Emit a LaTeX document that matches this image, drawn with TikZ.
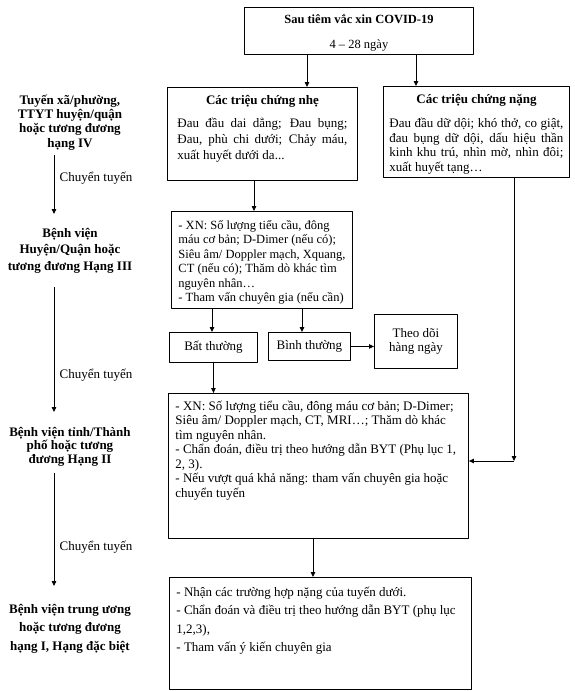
\documentclass[tikz,border=0pt]{standalone}
\usepackage{fontspec}
\setmainfont{Liberation Serif}
\usetikzlibrary{arrows.meta}
\newcommand{\hopchu}[3]{\parbox[c][#2][t]{#1}{#3}}

\begin{document}
\begin{tikzpicture}[x=1pt, y=-1pt, line join=round, >={Triangle[length=5pt,width=4.5pt]},
	font=\fontsize{13}{14.5}\selectfont,
	hop/.style={draw, line width=.9pt, anchor=north west, inner ysep=0pt},
	nhan/.style={anchor=north, inner sep=0pt, align=center, font=\fontsize{13}{#1}\selectfont\bfseries},
	muiten/.style={->, line width=.8pt},
	chuyen/.style={anchor=west, xshift=2pt}]
	\useasboundingbox (0,0) rectangle (575,691);
	
	%Các hộp bên phải
	\node[hop, inner xsep=0pt] (tiem) at (244,7) {\hopchu{229pt}{47pt}{\fontsize{12.5}{14.5}\selectfont\centering
			\rule{0pt}{16pt}\textbf{Sau tiêm vắc xin COVID-19}\\[10.5pt] 4 – 28 ngày}};
	\node[hop, inner xsep=10pt] (nhe) at (167,87) {\hopchu{170pt}{93pt}{\fontsize{13}{16}\selectfont
			{\centering\rule{0pt}{17pt}\textbf{Các triệu chứng nhẹ}\par}\vspace{7pt}
			Đau đầu dai dẳng; Đau bụng;\linebreak Đau, phù chi dưới; Chảy máu,\linebreak xuất huyết dưới da...}};
	\node[hop, inner xsep=6pt] (nang) at (383,86) {\hopchu{174pt}{91pt}{\fontsize{13}{14.7}\selectfont
			{\centering\rule{0pt}{17pt}\textbf{Các triệu chứng nặng}\par}\vspace{9.3pt}
			Đau đầu dữ dội; khó thở, co giật,\linebreak đau bụng dữ dội, dấu hiệu thần\linebreak kinh khu trú, nhìn mờ, nhìn đôi;\linebreak xuất huyết tạng…}};
	\node[hop, inner xsep=7pt] (xn) at (171,211) {\hopchu{167pt}{97pt}{\fontsize{12.5}{14.5}\selectfont\raggedright
			\rule{0pt}{18pt}- XN: Số lượng tiểu cầu, đông\\ máu cơ bản; D-Dimer (nếu có);\\ Siêu âm/ Doppler mạch, Xquang,\\ CT (nếu có); Thăm dò khác tìm\\ nguyên nhân…\\ - Tham vấn chuyên gia (nếu cần)}};
	\node[hop, minimum width=88pt, minimum height=30pt, inner sep=0pt] (bat) at (169,332) {Bất thường};
	\node[hop, minimum width=82pt, minimum height=28pt, inner sep=0pt] (binh) at (268,332) {Bình thường};
	\node[hop, minimum width=83pt, minimum height=54pt, inner sep=0pt, align=center] (theodoi) at (374,314) {Theo dõi\\ hàng ngày};
	\node[hop, inner xsep=7pt] (tinh) at (168,393) {\hopchu{286pt}{145pt}{\raggedright
			\rule{0pt}{17pt}- XN: Số lượng tiểu cầu, đông máu cơ bản; D-Dimer;\\ Siêu âm/ Doppler mạch, CT, MRI…; Thăm dò khác\\ tìm nguyên nhân.\\ - Chẩn đoán, điều trị theo hướng dẫn BYT (Phụ lục 1,\\ 2, 3).\\ - Nếu vượt quá khả năng: tham vấn chuyên gia hoặc\\ chuyển tuyến}};
	\node[hop, inner xsep=7pt] (tw) at (169,577) {\hopchu{288pt}{112pt}{\fontsize{13}{18.5}\selectfont\raggedright
			\rule{0pt}{19pt}- Nhận các trường hợp nặng của tuyến dưới.\\ - Chẩn đoán và điều trị theo hướng dẫn BYT (phụ lục\\ 1,2,3),\\ - Tham vấn ý kiến chuyên gia}};
	
	%Các tuyến bên trái
	\node[nhan=14.3] (hang4) at (70,92) {\rule{0pt}{12pt}Tuyến xã/phường,\\ TTYT huyện/quận\\ hoặc tương đương\\ hạng IV};
	\node[nhan=16.5] (hang3) at (70,225) {\rule{0pt}{12pt}Bệnh viện\\ Huyện/Quận hoặc\\ tương đương Hạng III};
	\node[nhan=13.5] (hang2) at (70,424) {\rule{0pt}{12pt}Bệnh viện tỉnh/Thành\\ phố hoặc tương\\ đương Hạng II};
	\node[nhan=18.5] (hang1) at (70,601) {\rule{0pt}{12pt}Bệnh viện trung ương\\ hoặc tương đương\\ hạng I, Hạng đặc biệt};
	
	\draw[muiten, shorten <=5pt, shorten >=11pt] (hang4.south -| 54,0) -- (hang3.north -| 54,0) node[chuyen, pos=.37] {Chuyển tuyến};
	\draw[muiten, shorten <=14pt, shorten >=12pt] (hang3.south -| 54,0) -- (hang2.north -| 54,0) node[chuyen, pos=.675] {Chuyển tuyến};
	\draw[muiten, shorten <=7pt, shorten >=15pt] (hang2.south -| 54,0) -- (hang1.north -| 54,0) node[chuyen, pos=.6] {Chuyển tuyến};
	
	%Mũi tên
	\draw[muiten] (tiem.south -| 307,0) -- (nhe.north -| 307,0);
	\draw[muiten] (tiem.south -| 416,0) -- (nang.north -| 416,0);
	\draw[muiten] (nhe.south -| 254,0) -- (xn.north -| 254,0);
	\draw[muiten] (xn.south -| 212,0) -- (bat.north -| 212,0);
	\draw[muiten] (xn.south -| 302,0) -- (binh.north -| 302,0);
	\draw[muiten] (binh.east) -- (theodoi.west |- binh.east);
	\draw[muiten] (bat.south) -- (tinh.north -| bat.south);
	\coordinate (re) at (514,461);
	\draw[muiten] (nang.south -| re) -- (re);
	\draw[muiten] (re) -- (tinh.east |- re);
	\draw[muiten] (tinh.south -| 313,0) -- (tw.north -| 313,0);
\end{tikzpicture}
\end{document}
